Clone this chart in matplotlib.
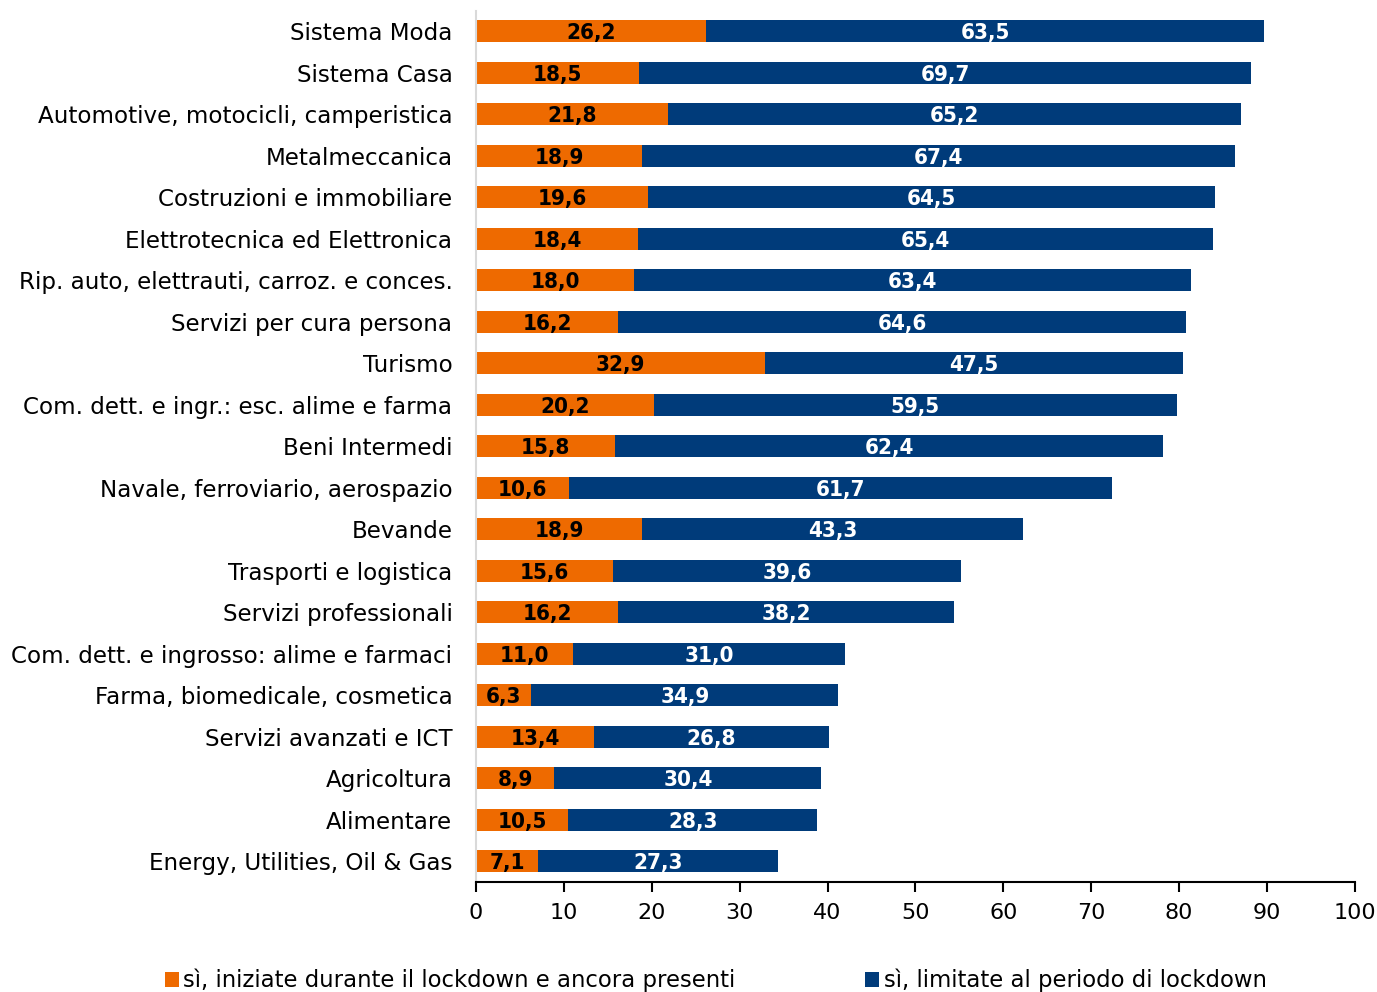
import matplotlib.pyplot as plt
import numpy as np

categorie = [
    "Sistema Moda",
    "Sistema Casa",
    "Automotive, motocicli, camperistica",
    "Metalmeccanica",
    "Costruzioni e immobiliare",
    "Elettrotecnica ed Elettronica",
    "Rip. auto, elettrauti, carroz. e conces.",
    "Servizi per cura persona",
    "Turismo",
    "Com. dett. e ingr.: esc. alime e farma",
    "Beni Intermedi",
    "Navale, ferroviario, aerospazio",
    "Bevande",
    "Trasporti e logistica",
    "Servizi professionali",
    "Com. dett. e ingrosso: alime e farmaci",
    "Farma, biomedicale, cosmetica",
    "Servizi avanzati e ICT",
    "Agricoltura",
    "Alimentare",
    "Energy, Utilities, Oil & Gas",
]
ancora_presenti = [26.2, 18.5, 21.8, 18.9, 19.6, 18.4, 18.0, 16.2, 32.9, 20.2, 15.8,
                   10.6, 18.9, 15.6, 16.2, 11.0, 6.3, 13.4, 8.9, 10.5, 7.1]
solo_lockdown = [63.5, 69.7, 65.2, 67.4, 64.5, 65.4, 63.4, 64.6, 47.5, 59.5, 62.4,
                 61.7, 43.3, 39.6, 38.2, 31.0, 34.9, 26.8, 30.4, 28.3, 27.3]
legenda = ["sì, iniziate durante il lockdown e ancora presenti",
           "sì, limitate al periodo di lockdown"]

arancio = '#EE6A00'
blu = '#003B7A'

plt.rcParams['font.family'] = 'DejaVu Sans'

fig = plt.figure(figsize=(13.77, 9.92), dpi=100)
ax = fig.add_axes([0.3457, 0.1109, 0.6383, 0.8785])

y = np.arange(len(categorie))[::-1]
b1 = ax.barh(y, ancora_presenti, height=0.53, color=arancio, label=legenda[0])
b2 = ax.barh(y, solo_lockdown, left=ancora_presenti, height=0.53, color=blu, label=legenda[1])

fmt = lambda v: f'{v:.1f}'.replace('.', ',')
for barre, valori, col in [(b1, ancora_presenti, 'black'), (b2, solo_lockdown, 'white')]:
    for t in ax.bar_label(barre, labels=[fmt(v) for v in valori], label_type='center',
                          color=col, fontsize=16, fontweight='bold', fontstretch='condensed'):
        t.set_va('center_baseline')

ax.set_xlim(0, 100)
ax.set_ylim(-0.5, len(categorie) - 0.5)
ax.set_xticks(range(0, 101, 10))
ax.set_yticks(y)
ax.set_yticklabels(categorie, fontsize=16.6)
ax.tick_params(axis='y', length=0, pad=17)
ax.tick_params(axis='x', labelsize=16, length=7, width=1.5, pad=8)

for s in ['top', 'right']:
    ax.spines[s].set_visible(False)
ax.spines['left'].set_color('#D9D9D9')
ax.spines['left'].set_linewidth(1.5)
ax.spines['bottom'].set_linewidth(1.5)

fig.legend(handles=[b1, b2], labels=legenda, loc='lower left', bbox_to_anchor=(0.105, -0.021),
           ncol=2, frameon=False, fontsize=16.4, handlelength=0.6, handleheight=0.6,
           handletextpad=0.2, columnspacing=5.7)

plt.savefig('out.png', dpi=100)
